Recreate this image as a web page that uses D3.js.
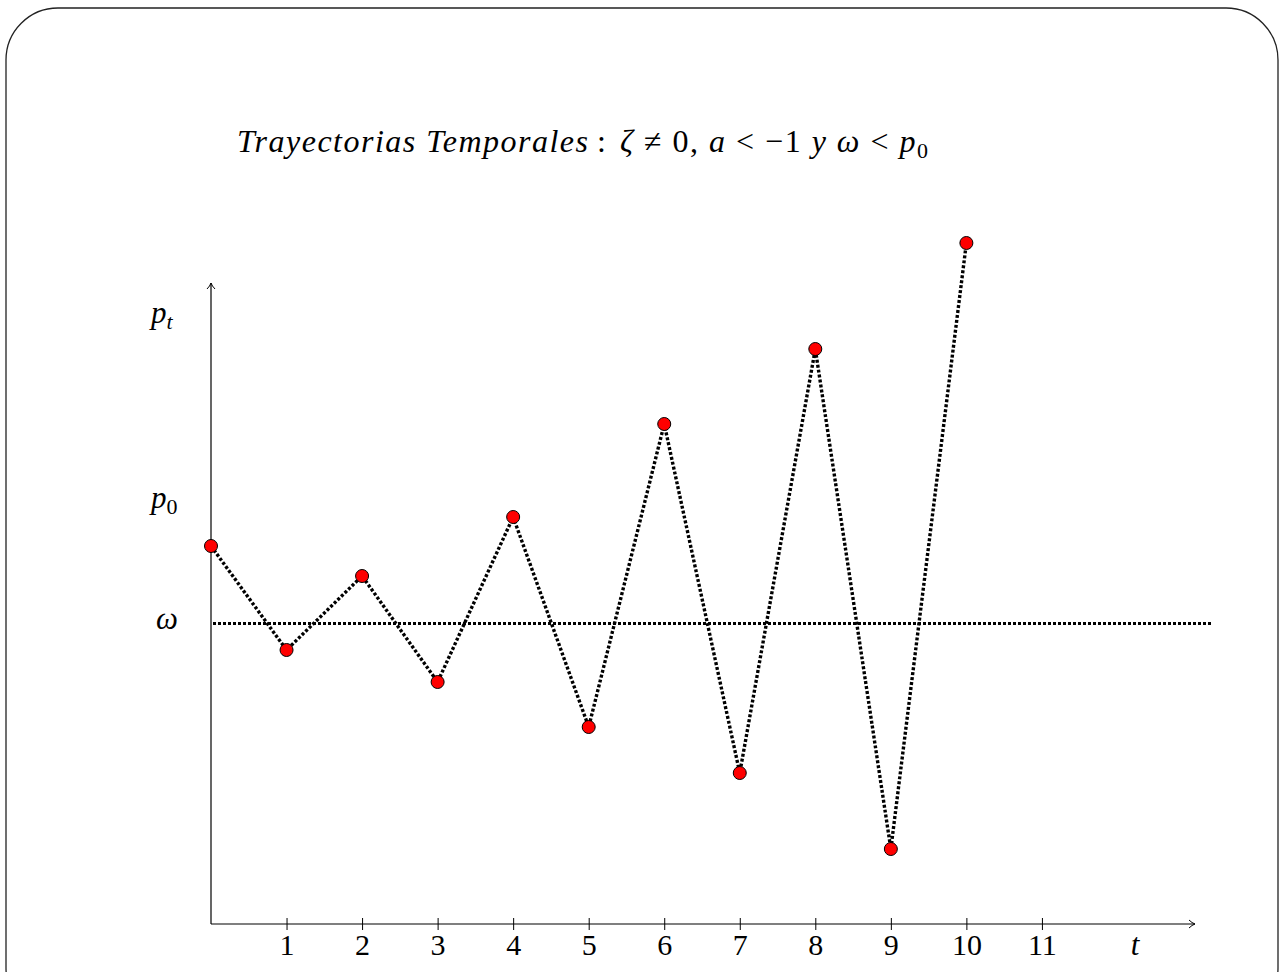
<!DOCTYPE html>
<html>
<head>
<meta charset="utf-8">
<script src="https://cdn.jsdelivr.net/npm/d3@7"></script>
<style>
    body { margin: 0; background: #fff; }
    text { font-family: "Liberation Serif", "DejaVu Serif", serif; fill: #000; }
    .math { font-style: italic; }
</style>
</head>
<body>
<div id="chart"></div>
<script>
// periods and price deviations from omega (omega = 0)
var periods = [0, 1, 2, 3, 4, 5, 6, 7, 8, 9, 10];
var prices = [77, -27, 47, -59, 106, -104, 199, -150, 274, -226, 380];
var xTicks = [1, 2, 3, 4, 5, 6, 7, 8, 9, 10, 11];
var omega = 0;
var p0 = 118;
var pt = 303;

var W = 1288, H = 972,
    margin = {top: 283, right: 93, bottom: 48, left: 211},
    width = W - margin.left - margin.right,
    height = H - margin.top - margin.bottom;

var xScale = d3.scaleLinear().domain([0, 13]).range([0, 982]);
var yScale = d3.scaleLinear().domain([-301, 340]).range([height, 0]);

var svg = d3.select("#chart").append("svg")
    .attr("width", W)
    .attr("height", H);

// rounded frame
svg.append("rect")
    .attr("x", 6).attr("y", 8)
    .attr("width", 1272).attr("height", 1012)
    .attr("rx", 52).attr("ry", 52)
    .attr("fill", "none")
    .attr("stroke", "#222")
    .attr("stroke-width", 1.3);

// title, in pieces so the widths follow the reference
svg.append("text")
    .attr("class", "math")
    .attr("x", 237).attr("y", 152)
    .attr("textLength", 351).attr("lengthAdjust", "spacing")
    .style("font-size", "32px")
    .text("Trayectorias Temporales");
svg.append("text")
    .attr("x", 597).attr("y", 152)
    .style("font-size", "32px")
    .text(":");

var t2 = svg.append("text")
    .attr("x", 620).attr("y", 152)
    .attr("textLength", 308).attr("lengthAdjust", "spacing")
    .style("font-size", "32px");
t2.append("tspan").attr("class", "math").text("ζ");
t2.append("tspan").text(" ≠ 0, ");
t2.append("tspan").attr("class", "math").text("a");
t2.append("tspan").text(" < −1 ");
t2.append("tspan").attr("class", "math").text("y ω");
t2.append("tspan").text(" < ");
t2.append("tspan").attr("class", "math").text("p");
t2.append("tspan").attr("dy", 6).style("font-size", "22px").text("0");

var g = svg.append("g")
    .attr("transform", "translate(" + margin.left + "," + margin.top + ")");

// axes
var xAxis = d3.axisBottom(xScale)
    .tickValues(xTicks)
    .tickSize(0)
    .tickPadding(10)
    .tickFormat(d3.format("d"));

var gx = g.append("g")
    .attr("transform", "translate(0," + height + ")")
    .call(xAxis);
gx.select(".domain").remove();
gx.selectAll(".tick text")
    .style("font-size", "30px")
    .style("font-family", "Liberation Serif, serif");
gx.selectAll(".tick")
    .append("line")
    .attr("y1", -6).attr("y2", 6)
    .attr("stroke", "#000")
    .attr("stroke-width", 1);

// axis lines with open arrowheads
g.append("line")
    .attr("x1", 0).attr("y1", height)
    .attr("x2", 984).attr("y2", height)
    .attr("stroke", "#000").attr("stroke-width", 1.2);
g.append("path")
    .attr("d", "M978,-4 Q981,-1 984,0 Q981,1 978,4")
    .attr("transform", "translate(0," + height + ")")
    .attr("fill", "none").attr("stroke", "#000").attr("stroke-width", 1);

g.append("line")
    .attr("x1", 0).attr("y1", height)
    .attr("x2", 0).attr("y2", 0)
    .attr("stroke", "#000").attr("stroke-width", 1.2);
g.append("path")
    .attr("d", "M-4,6 Q-1,3 0,0 Q1,3 4,6")
    .attr("fill", "none").attr("stroke", "#000").attr("stroke-width", 1);

// axis names
g.append("text")
    .attr("class", "math")
    .attr("x", 924).attr("y", height + 31)
    .attr("text-anchor", "middle")
    .style("font-size", "31px")
    .text("t");

var yLabels = [
    {v: pt, s: "t"},
    {v: p0, s: "0"}
];
yLabels.forEach(function(d) {
    var t = g.append("text")
        .attr("x", -60)
        .attr("y", yScale(d.v) + 3)
        .style("font-size", "31px");
    t.append("tspan").attr("class", "math").text("p");
    t.append("tspan").attr("dy", 6)
        .attr("class", d.s === "t" ? "math" : null)
        .style("font-size", "22px").text(d.s);
});
g.append("text")
    .attr("class", "math")
    .attr("x", -55)
    .attr("y", yScale(omega) + 6)
    .style("font-size", "31px")
    .text("ω");

// omega level
g.append("line")
    .attr("x1", 2).attr("x2", 1000)
    .attr("y1", yScale(omega) + 0.5).attr("y2", yScale(omega) + 0.5)
    .attr("stroke", "#000")
    .attr("stroke-width", 3)
    .attr("stroke-dasharray", "3,2");

// trajectory
var data = periods.map(function(p, i) { return [p, prices[i]]; });
var line = d3.line()
    .x(function(d) { return xScale(d[0]); })
    .y(function(d) { return yScale(d[1]); });

g.append("path")
    .datum(data)
    .attr("d", line)
    .attr("fill", "none")
    .attr("stroke", "#000")
    .attr("stroke-width", 3.4)
    .attr("stroke-dasharray", "3,2");

g.selectAll(".dot")
    .data(data)
    .enter().append("circle")
    .attr("class", "dot")
    .attr("cx", function(d) { return xScale(d[0]); })
    .attr("cy", function(d) { return yScale(d[1]); })
    .attr("r", 6.5)
    .attr("fill", "#f00")
    .attr("stroke", "#000")
    .attr("stroke-width", 1);
</script>
</body>
</html>
